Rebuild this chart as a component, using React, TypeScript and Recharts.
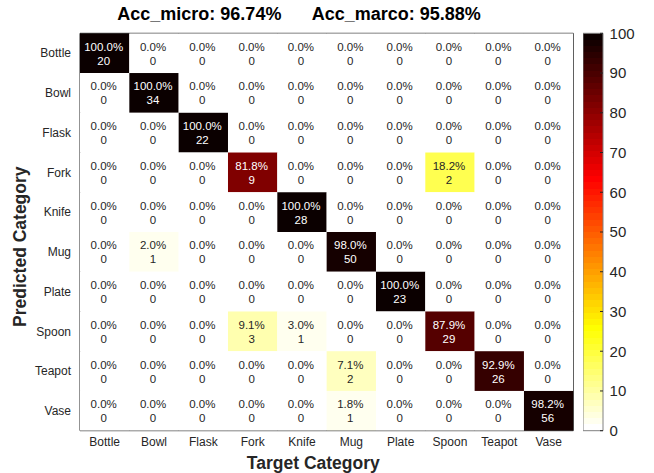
import { Bar, BarChart, ReferenceArea, Scatter, ScatterChart, XAxis, YAxis } from "recharts";

const categories = ["Bottle", "Bowl", "Flask", "Fork", "Knife", "Mug", "Plate", "Spoon", "Teapot", "Vase"];

// rows = predicted category, columns = target category
const counts = [
  [20, 0, 0, 0, 0, 0, 0, 0, 0, 0],
  [0, 34, 0, 0, 0, 0, 0, 0, 0, 0],
  [0, 0, 22, 0, 0, 0, 0, 0, 0, 0],
  [0, 0, 0, 9, 0, 0, 0, 2, 0, 0],
  [0, 0, 0, 0, 28, 0, 0, 0, 0, 0],
  [0, 1, 0, 0, 0, 50, 0, 0, 0, 0],
  [0, 0, 0, 0, 0, 0, 23, 0, 0, 0],
  [0, 0, 0, 3, 1, 0, 0, 29, 0, 0],
  [0, 0, 0, 0, 0, 2, 0, 0, 26, 0],
  [0, 0, 0, 0, 0, 1, 0, 0, 0, 56],
];

const percents = [
  [100.0, 0, 0, 0, 0, 0, 0, 0, 0, 0],
  [0, 100.0, 0, 0, 0, 0, 0, 0, 0, 0],
  [0, 0, 100.0, 0, 0, 0, 0, 0, 0, 0],
  [0, 0, 0, 81.8, 0, 0, 0, 18.2, 0, 0],
  [0, 0, 0, 0, 100.0, 0, 0, 0, 0, 0],
  [0, 2.0, 0, 0, 0, 98.0, 0, 0, 0, 0],
  [0, 0, 0, 0, 0, 0, 100.0, 0, 0, 0],
  [0, 0, 0, 9.1, 3.0, 0, 0, 87.9, 0, 0],
  [0, 0, 0, 0, 0, 7.1, 0, 0, 92.9, 0],
  [0, 0, 0, 0, 0, 1.8, 0, 0, 0, 98.2],
];

const colorbarTicks = [0, 10, 20, 30, 40, 50, 60, 70, 80, 90, 100];
const accMicro = "96.74%";
const accMacro = "95.88%";

const PLOT_W = 493.3;
const PLOT_H = 397.4;
const CW = PLOT_W / 10;
const CH = PLOT_H / 10;
const TEXT = "#262626";

// flipped matlab "hot" colormap, 64 levels
function hotLevel(k: number) {
  const r = k < 24 ? (k + 1) / 24 : 1;
  const g = k < 24 ? 0 : k < 48 ? (k - 23) / 24 : 1;
  const b = k < 48 ? 0 : (k - 47) / 16;
  const h = (c: number) => Math.round(c * 255).toString(16).padStart(2, "0");
  return `#${h(r)}${h(g)}${h(b)}`;
}
function colorFor(v: number) {
  const idx = Math.min(63, Math.floor((v / 100) * 64));
  return hotLevel(63 - idx);
}

const cells = counts.flatMap((row, r) =>
  row.map((n, c) => ({ x: c, y: r, count: n, pct: percents[r][c] }))
);

function CellShape(props: any) {
  const { cx, cy, payload } = props;
  const dark = payload.pct > 50;
  const fg = dark ? "#ffffff" : TEXT;
  return (
    <g>
      <rect x={cx - CW / 2} y={cy - CH / 2} width={CW} height={CH} fill={colorFor(payload.pct)} />
      <text x={cx - 1} y={cy - 2.5} textAnchor="middle" fontSize={11.5} fill={fg}>
        {payload.pct.toFixed(1)}%
      </text>
      <text x={cx - 1} y={cy + 11.5} textAnchor="middle" fontSize={11.5} fill={fg}>
        {payload.count}
      </text>
    </g>
  );
}

const levels = Array.from({ length: 64 }, (_, i) => i);

export default function App() {
  return (
    <div
      style={{
        position: "absolute",
        left: 0,
        top: 0,
        width: 654,
        height: 473,
        background: "#fff",
        fontFamily: "'Liberation Sans', Arial, Helvetica, sans-serif",
      }}
    >
      <div style={{ position: "absolute", left: 0, top: 0 }}>
        <ScatterChart width={654} height={473} margin={{ top: 33.3, right: 80.7, bottom: 22.3, left: 20 }}>
          <XAxis
            type="number"
            dataKey="x"
            domain={[-0.5, 9.5]}
            ticks={categories.map((_, i) => i)}
            tickFormatter={(i: number) => categories[i]}
            interval={0}
            allowDataOverflow
            axisLine={false}
            tickLine={false}
            tickMargin={1}
            height={20}
            tick={{ fontSize: 12, fill: TEXT }}
          />
          <YAxis
            type="number"
            dataKey="y"
            domain={[-0.5, 9.5]}
            reversed
            ticks={categories.map((_, i) => i)}
            tickFormatter={(i: number) => categories[i]}
            interval={0}
            allowDataOverflow
            axisLine={false}
            tickLine={false}
            tickMargin={3}
            width={60}
            tick={{ fontSize: 12, fill: TEXT }}
          />
          <Scatter data={cells} shape={CellShape} isAnimationActive={false} />
          <ReferenceArea x1={-0.5} x2={9.5} y1={-0.5} y2={9.5} fill="none" stroke={TEXT} strokeWidth={1} />
          <text x={117.3} y={20} fontSize={18} fontWeight="bold" fill="#000">
            Acc_micro: {accMicro}
          </text>
          <text x={311.7} y={20} fontSize={18} fontWeight="bold" fill="#000">
            Acc_marco: {accMacro}
          </text>
          <text x={313.3} y={469} textAnchor="middle" fontSize={17.5} fontWeight="bold" fill={TEXT}>
            Target Category
          </text>
          <text
            x={26}
            y={246.7}
            textAnchor="middle"
            fontSize={17.5}
            fontWeight="bold"
            fill={TEXT}
            transform="rotate(-90 26 246.7)"
          >
            Predicted Category
          </text>
        </ScatterChart>
      </div>
      <div style={{ position: "absolute", left: 583, top: 0 }}>
        <BarChart
          width={71}
          height={473}
          data={[{ v: 100 }]}
          margin={{ top: 33.3, right: 0, bottom: 42.3, left: 0 }}
          barCategoryGap={0}
        >
          <defs>
            <linearGradient id="cbGrad" x1="0" y1="1" x2="0" y2="0">
              {levels.flatMap((i) => [
                <stop key={`a${i}`} offset={i / 64} stopColor={hotLevel(63 - i)} />,
                <stop key={`b${i}`} offset={(i + 1) / 64} stopColor={hotLevel(63 - i)} />,
              ])}
            </linearGradient>
          </defs>
          <XAxis dataKey="v" hide />
          <YAxis
            orientation="right"
            type="number"
            domain={[0, 100]}
            ticks={colorbarTicks}
            interval={0}
            width={51}
            axisLine={false}
            tickSize={-3}
            tickMargin={9.6}
            tickLine={{ stroke: TEXT }}
            tick={{ fontSize: 15, fill: TEXT }}
          />
          <Bar dataKey="v" fill="url(#cbGrad)" stroke="#808080" strokeWidth={1} isAnimationActive={false} />
        </BarChart>
      </div>
    </div>
  );
}
